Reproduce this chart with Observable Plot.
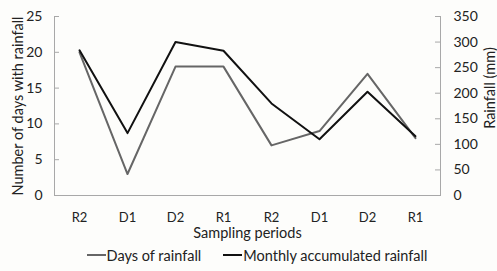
<!DOCTYPE html>
<html>
<head>
<meta charset="utf-8">
<script src="https://cdn.jsdelivr.net/npm/d3@7"></script>
<script src="https://cdn.jsdelivr.net/npm/@observablehq/plot@0.6"></script>
<style>
  html, body { margin: 0; padding: 0; background: #fdfdfb; }
  body { width: 497px; height: 271px; overflow: hidden; font-family: Lato, "Open Sans", sans-serif; }
  #legend { display: flex; justify-content: center; align-items: center; gap: 22px; font-size: 14.5px; color: #222; height: 26px; margin-top: -3px; padding-left: 17px; }
  .item { display: flex; align-items: center; }
  .sw { display: inline-block; width: 19px; height: 2px; margin-right: 1px; }
</style>
</head>
<body>
<div id="chart"></div>
<div id="legend"></div>
<script>
const periods = ["R2", "D1", "D2", "R1", "R2", "D1", "D2", "R1"];
const daysOfRainfall = [20, 3, 18, 18, 7, 9, 17, 8];
const monthlyRainfallMm = [284, 122, 300, 283, 180, 110, 203, 116];
const leftTicks = [0, 5, 10, 15, 20, 25];
const rightTicks = [0, 50, 100, 150, 200, 250, 300, 350];
const seriesNames = ["Days of rainfall", "Monthly accumulated rainfall"];
const seriesColors = ["#666666", "#111111"];

const ratio = 350 / 25;
const idx = periods.map((_, i) => i);
const days = idx.map(i => ({i, v: daysOfRainfall[i]}));
const rain = idx.map(i => ({i, v: monthlyRainfallMm[i] / ratio}));

const axisColor = "#a8a8a8";
const chart = Plot.plot({
  width: 497,
  height: 245,
  marginLeft: 54,
  marginRight: 57,
  marginTop: 16,
  marginBottom: 50,
  style: {fontFamily: "Lato, 'Open Sans', sans-serif", fontSize: "13px", color: "#222", background: "transparent"},
  x: {type: "point", domain: idx, padding: 0.5},
  y: {domain: [0, 25]},
  marks: [
    Plot.frame({anchor: "left", stroke: axisColor}),
    Plot.frame({anchor: "right", stroke: axisColor}),
    Plot.ruleY([0], {stroke: axisColor}),
    Plot.axisY({anchor: "left", ticks: leftTicks, tickSize: -5, stroke: axisColor, tickPadding: 17, label: null, fontSize: 14}),
    Plot.axisY({anchor: "right", ticks: rightTicks.map(v => v / ratio), tickFormat: d => String(Math.round(d * ratio)), tickSize: -6, stroke: axisColor, tickPadding: 19, label: null, fontSize: 14}),
    Plot.axisX({tickSize: 0, tickPadding: 17, tickFormat: i => periods[i], label: null, fontSize: 13}),
    Plot.text(["Sampling periods"], {frameAnchor: "bottom", lineAnchor: "middle", dy: 38, fontSize: 14.5, fill: "#222"}),
    Plot.text(["Number of days with rainfall"], {frameAnchor: "left", textAnchor: "middle", lineAnchor: "middle", dx: -36, rotate: -90, fontSize: 14.5, fill: "#222"}),
    Plot.text(["Rainfall (mm)"], {frameAnchor: "right", textAnchor: "middle", lineAnchor: "middle", dx: 50, dy: -18, rotate: -90, fontSize: 14.5, fill: "#222"}),
    Plot.line(days, {x: "i", y: "v", stroke: seriesColors[0], strokeWidth: 2}),
    Plot.line(rain, {x: "i", y: "v", stroke: seriesColors[1], strokeWidth: 2})
  ]
});
document.getElementById("chart").appendChild(chart);

const legend = document.getElementById("legend");
seriesNames.forEach((name, k) => {
  const item = document.createElement("div");
  item.className = "item";
  const sw = document.createElement("span");
  sw.className = "sw";
  sw.style.background = seriesColors[k];
  item.appendChild(sw);
  item.appendChild(document.createTextNode(name));
  legend.appendChild(item);
});
</script>
</body>
</html>
